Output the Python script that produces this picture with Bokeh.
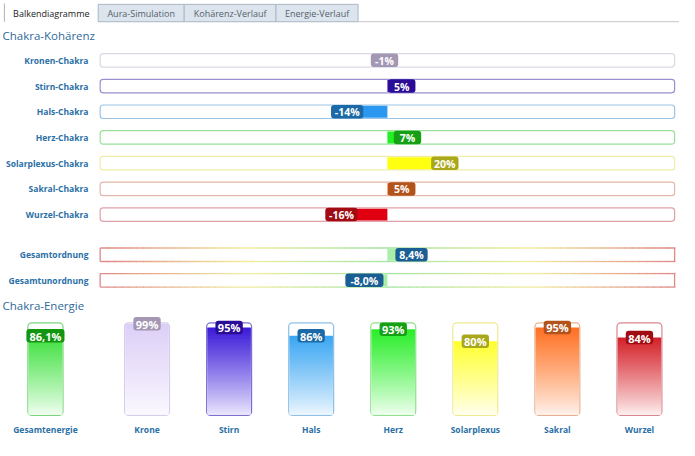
import numpy as np
from bokeh.plotting import figure
from bokeh.models import Range1d
from bokeh.core.properties import value
from bokeh.embed import file_html
from bokeh.resources import INLINE

# ---------------- data ----------------
tab_names = ["Balkendiagramme", "Aura-Simulation", "Kohärenz-Verlauf", "Energie-Verlauf"]

coh_labels = ["Kronen-Chakra", "Stirn-Chakra", "Hals-Chakra", "Herz-Chakra",
              "Solarplexus-Chakra", "Sakral-Chakra", "Wurzel-Chakra"]
coh_values = [-1, 5, -14, 7, 20, 5, -16]

total_labels = ["Gesamtordnung", "Gesamtunordnung"]
total_values = [8.4, -8.0]

energy_labels = ["Gesamtenergie", "Krone", "Stirn", "Hals", "Herz",
                 "Solarplexus", "Sakral", "Wurzel"]
energy_values = [86.1, 99, 95, 86, 93, 80, 95, 84]

# ---------------- styles ----------------
FONT = value("Open Sans")
LABEL_COLOR = "#2a6fa6"
TITLE_COLOR = "#2f6a9c"

coh_track = ["#d9d9e3", "#9a8fcf", "#9cc3e3", "#98e098", "#f0eda8", "#e3b8a8", "#e0a0a8"]
coh_fill = ["#cfc4e0", "#3a1ad8", "#2a98f0", "#22f022", "#ffff10", "#ff7020", "#e00010"]
coh_badge = ["#a497b4", "#2a0c96", "#1b69a6", "#16a016", "#a9a81a", "#b4521b", "#a00c12"]
total_badge = "#1a5e94"
total_fill = "#a8f0a8"

en_outline = ["#7cd67c", "#d8cdea", "#7d6fcf", "#8cc0e6", "#8ee08e", "#eeea90", "#e8b090", "#d88890"]
en_top = ["#3de03d", "#dccff7", "#3a1ad8", "#3aa6f2", "#28ee28", "#ffff30", "#ff7020", "#d42028"]
en_bottom = ["#f4fff4", "#fbf9ff", "#eeeaff", "#f0f8ff", "#f2fff2", "#fffff2", "#fff4ee", "#fff2f2"]
en_badge = ["#13960f", "#a497b4", "#2a0c96", "#1b69a6", "#16a016", "#a9a81a", "#b4521b", "#a00c12"]

# ---------------- layout constants (reference pixel space) ----------------
W, H = 695, 456
CX = 396          # x of 0 %
PXP = 2.94        # px per percent (track is -100 .. 100)
EN_BASE = 430     # y of 0 % energy
EN_PX = 0.96      # px per energy percent


def hex2rgb(h):
    h = h.lstrip("#")
    return np.array([int(h[i:i + 2], 16) for i in (0, 2, 4)], dtype=float)


def rgb2hex(c):
    c = np.clip(np.round(c), 0, 255).astype(int)
    return "#%02x%02x%02x" % tuple(c)


def mix(a, b, t):
    return rgb2hex(hex2rgb(a) * (1 - t) + hex2rgb(b) * t)


p = figure(width=679, height=440, x_range=Range1d(0, W), y_range=Range1d(H, 0),
           output_backend="svg", toolbar_location=None,
           x_axis_location=None, y_axis_location=None,
           min_border_left=0, min_border_right=0, min_border_top=0, min_border_bottom=0)
p.grid.visible = False
p.outline_line_color = None
p.background_fill_color = "white"
p.border_fill_color = "white"
p.extra_x_ranges = {"pct": Range1d(start=(0 - CX) / PXP, end=(W - CX) / PXP)}
p.extra_y_ranges = {"en": Range1d(start=(EN_BASE - H) / EN_PX, end=EN_BASE / EN_PX)}

# ---------------- tabs ----------------
tab_edges = [4, 100, 188, 282, 366]
tab_top, tab_bot = 4, 22
p.quad(left=tab_edges[1:-1], right=tab_edges[2:], top=[tab_top] * 3, bottom=[tab_bot] * 3,
       fill_color="#dce5ee", line_color="#a9b7c5", line_width=1)
p.segment(x0=[tab_edges[0]], y0=[3], x1=[tab_edges[0]], y1=[tab_bot], line_color="#b0b0b0")
p.segment(x0=[tab_edges[-1]], y0=[tab_bot], x1=[W], y1=[tab_bot], line_color="#c4c4c4")
tab_cx = [(a + b) / 2 for a, b in zip(tab_edges[:-1], tab_edges[1:])]
p.text(x=tab_cx, y=[13.5] * 4, text=tab_names, text_font=FONT, text_font_size="9px",
       text_align="center", text_baseline="middle",
       text_color=["#222222", "#555f6a", "#555f6a", "#555f6a"])

# ---------------- titles ----------------
p.text(x=[2, 2], y=[36, 316], text=["Chakra-Kohärenz", "Chakra-Energie"], text_font=FONT,
       text_font_size="11.5px", text_align="left", text_baseline="middle", text_color=TITLE_COLOR)

# ---------------- coherence bars ----------------
row_y = [62 + i * 26.65 for i in range(len(coh_labels))]
tot_y = [263.5, 290]
TH = 7  # half track height


def badge_w(txt):
    return max(28, 6 * len(txt) + 9)


coh_text = ["%d%%" % v for v in coh_values]
tot_text = [("%.1f%%" % v).replace(".", ",") for v in total_values]

# tracks (single colour outlines)
p.quad(left=[-100] * len(row_y), right=[100] * len(row_y),
       top=[y - TH for y in row_y], bottom=[y + TH for y in row_y],
       x_range_name="pct", fill_color="white", line_color=coh_track, line_width=1.2,
       border_radius=3)
# totals tracks with gradient outline
p.quad(left=[-100] * 2, right=[100] * 2, top=[y - TH for y in tot_y], bottom=[y + TH for y in tot_y],
       x_range_name="pct", fill_color="white", line_color=None)
stops_x = [-100, -50, 0, 50, 100]
stops_c = ["#e08888", "#f2eea0", "#a4e4a4", "#f2eea0", "#e08888"]
nseg = 80
xs = np.linspace(-100, 100, nseg + 1)
sx0, sx1, sy, sc = [], [], [], []
for y in tot_y:
    for i in range(nseg):
        xm = (xs[i] + xs[i + 1]) / 2
        k = min(int((xm + 100) // 50), 3)
        t = (xm - stops_x[k]) / 50
        col = mix(stops_c[k], stops_c[k + 1], t)
        for yy in (y - TH, y + TH):
            sx0.append(xs[i]); sx1.append(xs[i + 1] + 0.3); sy.append(yy); sc.append(col)
p.segment(x0=sx0, y0=sy, x1=sx1, y1=sy, line_color=sc, line_width=1.3, x_range_name="pct")
p.segment(x0=[-100, 100, -100, 100], x1=[-100, 100, -100, 100],
          y0=[tot_y[0] - TH, tot_y[0] - TH, tot_y[1] - TH, tot_y[1] - TH],
          y1=[tot_y[0] + TH, tot_y[0] + TH, tot_y[1] + TH, tot_y[1] + TH],
          line_color="#e08888", line_width=1.3, x_range_name="pct")

# fills from 0 to value
all_vals = coh_values + total_values
all_y = row_y + tot_y
all_fill = coh_fill + [total_fill] * 2
p.quad(left=[min(0, v) for v in all_vals], right=[max(0, v) for v in all_vals],
       top=[y - TH + 0.8 for y in all_y], bottom=[y + TH - 0.8 for y in all_y],
       x_range_name="pct", fill_color=all_fill, line_color=None)

# badges centred at the value
all_text = coh_text + tot_text
all_badge = coh_badge + [total_badge] * 2
bw = [badge_w(t) / PXP for t in all_text]
p.quad(left=[v - w / 2 for v, w in zip(all_vals, bw)], right=[v + w / 2 for v, w in zip(all_vals, bw)],
       top=[y - 7 for y in all_y], bottom=[y + 7 for y in all_y],
       x_range_name="pct", fill_color=all_badge, line_color=None, border_radius=3)
p.text(x=all_vals, y=[y + 0.5 for y in all_y], text=all_text, x_range_name="pct",
       text_font=FONT, text_font_size="10.5px", text_font_style="bold",
       text_color="white", text_align="center", text_baseline="middle")

# row labels
p.text(x=[90] * len(all_y), y=all_y, text=coh_labels + total_labels, text_font=FONT,
       text_font_size="8.5px", text_font_style="bold", text_color=LABEL_COLOR,
       text_align="right", text_baseline="middle")

# ---------------- energy bars ----------------
en_x = [46] + [150 + 84 * i for i in range(len(energy_values) - 1)]
en_w = [36] + [46] * (len(energy_values) - 1)

# containers
p.quad(left=[x - w / 2 for x, w in zip(en_x, en_w)], right=[x + w / 2 for x, w in zip(en_x, en_w)],
       bottom=[0] * len(en_x), top=[100] * len(en_x), y_range_name="en",
       fill_color="white", line_color=en_outline, line_width=1.2, border_radius=4)

# gradient fills (slices from 0 up to the value)
nsl = 40
fl, fr, fb, ft, fc = [], [], [], [], []
for x, w, v, ct, cb in zip(en_x, en_w, energy_values, en_top, en_bottom):
    edges = np.linspace(0, v, nsl + 1)
    step = v / nsl
    for i in range(nsl):
        t = (i + 0.5) / nsl
        fl.append(x - w / 2 + 0.8); fr.append(x + w / 2 - 0.8)
        fb.append(max(edges[i], 0.6))
        ft.append(edges[i + 1] + (0.7 * step if i < nsl - 1 else 0))
        fc.append(mix(cb, ct, t ** 0.9))
p.quad(left=fl, right=fr, bottom=fb, top=ft, y_range_name="en", fill_color=fc, line_color=None)

# badges at the fill level
en_text = [("%.1f%%" % v).replace(".", ",") if v != int(v) else "%d%%" % v for v in energy_values]
ebw = [badge_w(t) for t in en_text]
hb = 7 / EN_PX
p.quad(left=[x - w / 2 for x, w in zip(en_x, ebw)], right=[x + w / 2 for x, w in zip(en_x, ebw)],
       bottom=[v - hb for v in energy_values], top=[v + hb for v in energy_values],
       y_range_name="en", fill_color=en_badge, line_color=None, border_radius=3)
p.text(x=en_x, y=[v - 0.5 / EN_PX for v in energy_values], text=en_text, y_range_name="en",
       text_font=FONT, text_font_size="11px", text_font_style="bold",
       text_color="white", text_align="center", text_baseline="middle")

# labels below
p.text(x=en_x, y=[445] * len(en_x), text=energy_labels, text_font=FONT, text_font_size="8.5px",
       text_font_style="bold", text_color=LABEL_COLOR, text_align="center", text_baseline="middle")

open("out.html", "w").write(file_html(p, INLINE))
